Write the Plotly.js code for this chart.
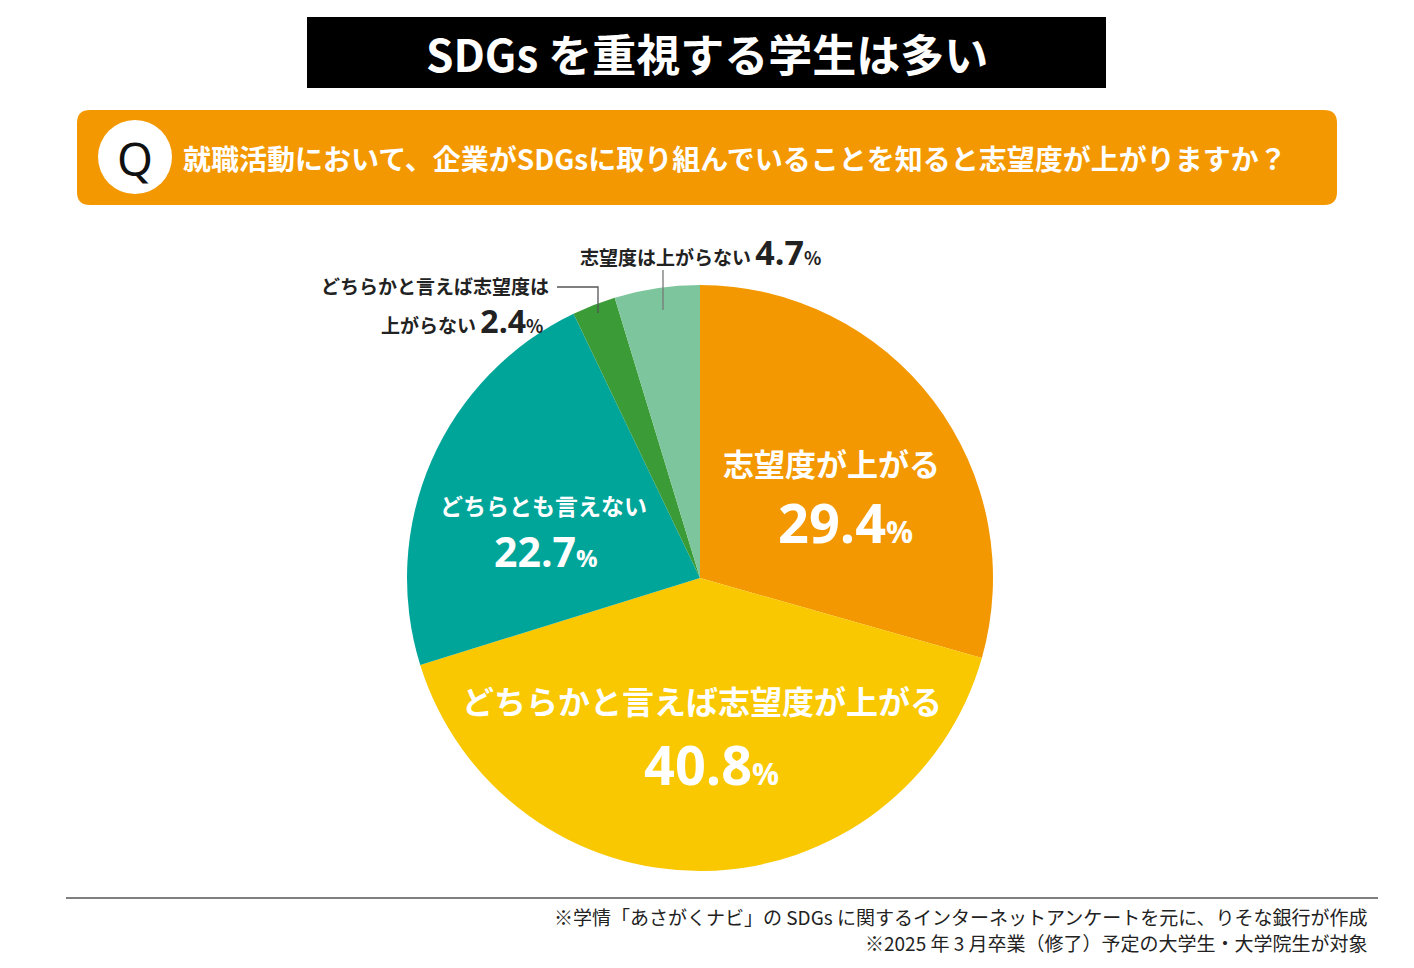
<!DOCTYPE html>
<html><head><meta charset="utf-8">
<script src="https://cdn.plot.ly/plotly-3.0.1.min.js"></script>
<style>body{margin:0;background:#fff}#chart{width:1414px;height:968px}</style>
</head><body><div id="chart"></div>
<script>
const categories = ["志望度が上がる","どちらかと言えば志望度が上がる","どちらとも言えない","どちらかと言えば志望度は上がらない","志望度は上がらない"];
const values = [29.4, 40.8, 22.7, 2.4, 4.7];
const colors = ["#F39800","#F9C800","#00A59A","#3A9B37","#7DC59C"];
const titleText = "SDGs を重視する学生は多い";
const questionText = "就職活動において、企業がSDGsに取り組んでいることを知ると志望度が上がりますか？";
const notes = ["※学情「あさがくナビ」の SDGs に関するインターネットアンケートを元に、りそな銀行が作成","※2025 年 3 月卒業（修了）予定の大学生・大学院生が対象"];

const W = 1414, H = 968;
const cx = 700, cy = 578, r = 293;
const jp = "Noto Sans CJK JP, Noto Sans, sans-serif";
const num = "Open Sans, Noto Sans, sans-serif";
const px = x => x / W, py = y => 1 - y / H;

function pct(v, big, small){
  return '<span style="font-family:Open Sans;font-size:'+big+'px">'+v+'</span><span style="font-size:'+small+'px">%</span>';
}

const data = [{
  type: "pie",
  labels: categories,
  values: values,
  sort: false,
  direction: "clockwise",
  rotation: 0,
  marker: {colors: colors, line: {width: 0}},
  textinfo: "none",
  hoverinfo: "label+value",
  domain: {x: [px(cx - r), px(cx + r)], y: [py(cy + r), py(cy - r)]},
  showlegend: false
}];

function ppath(pts, close){
  return pts.map((p,i)=>(i?'L':'M')+px(p[0])+','+py(p[1])).join(' ')+(close?' Z':'');
}
function rrect(x0,y0,x1,y1,rad){
  const P=(x,y)=>px(x)+','+py(y);
  return `M${P(x0+rad,y0)} L${P(x1-rad,y0)} Q${P(x1,y0)} ${P(x1,y0+rad)} L${P(x1,y1-rad)} Q${P(x1,y1)} ${P(x1-rad,y1)} L${P(x0+rad,y1)} Q${P(x0,y1)} ${P(x0,y1-rad)} L${P(x0,y0+rad)} Q${P(x0,y0)} ${P(x0+rad,y0)} Z`;
}

const shapes = [
  {type:"rect", xref:"paper", yref:"paper", x0:px(307), x1:px(1106), y0:py(88), y1:py(17), fillcolor:"#000", line:{width:0}},
  {type:"path", xref:"paper", yref:"paper", path: rrect(77,110,1337,205,13), fillcolor:"#F39800", line:{width:0}},
  {type:"circle", xref:"paper", yref:"paper", x0:px(98), x1:px(172), y0:py(194), y1:py(120), fillcolor:"#fff", line:{width:0}},
  {type:"path", xref:"paper", yref:"paper", path: ppath([[557,287],[598,287],[598,313]], false), line:{color:"#555", width:1.3}},
  {type:"line", xref:"paper", yref:"paper", x0:px(663), x1:px(663), y0:py(270), y1:py(310), line:{color:"#777", width:1.3}},
  {type:"line", xref:"paper", yref:"paper", x0:px(66), x1:px(1378), y0:py(898), y1:py(898), line:{color:"#808080", width:2}}
];

const annotations = [
  {x:px(707), y:py(53), text:titleText, font:{family:jp, size:44, color:"#fff", weight:"bold"}},
  {x:px(135), y:py(158), text:"Q", font:{family:"Noto Sans, sans-serif", size:46, color:"#111"}},
  {x:px(181), y:py(158), xanchor:"left", text:questionText, font:{family:jp, size:28, color:"#fff", weight:"bold"}},
  // inside labels
  {x:px(831), y:py(462), text:categories[0], font:{family:jp, size:31, color:"#fff", weight:"bold"}},
  {x:px(845), y:py(522), text:pct(values[0],54,30), font:{family:num, size:54, color:"#fff", weight:"bold"}},
  {x:px(702), y:py(700), text:categories[1], font:{family:jp, size:32, color:"#fff", weight:"bold"}},
  {x:px(711), y:py(764), text:pct(values[1],54,30), font:{family:num, size:54, color:"#fff", weight:"bold"}},
  {x:px(543), y:py(505), text:categories[2], font:{family:jp, size:23, color:"#fff", weight:"bold"}},
  {x:px(546), y:py(551), text:pct(values[2],41,24), font:{family:num, size:41, color:"#fff", weight:"bold"}},
  // outside labels
  {x:px(578), y:py(252), xanchor:"left", text:'志望度は上がらない '+pct(values[4],34,18), font:{family:jp, size:19, color:"#222", weight:"bold"}},
  {x:px(551), y:py(286), xanchor:"right", text:'どちらかと言えば志望度は', font:{family:jp, size:19, color:"#222", weight:"bold"}},
  {x:px(545), y:py(320), xanchor:"right", text:'上がらない '+pct(values[3],32,18), font:{family:jp, size:19, color:"#222", weight:"bold"}},
  // notes
  {x:px(1370), y:py(916), xanchor:"right", text:notes[0], font:{family:jp, size:19, color:"#222"}},
  {x:px(1370), y:py(942), xanchor:"right", text:notes[1], font:{family:jp, size:19, color:"#222"}}
].map(a => Object.assign({xref:"paper", yref:"paper", showarrow:false, xanchor:"center", yanchor:"middle"}, a));

const layout = {
  width: W, height: H,
  margin: {l:0, r:0, t:0, b:0},
  paper_bgcolor: "#fff",
  shapes: shapes,
  annotations: annotations,
  showlegend: false
};
Plotly.newPlot("chart", data, layout, {displayModeBar:false, staticPlot:true});
</script></body></html>
